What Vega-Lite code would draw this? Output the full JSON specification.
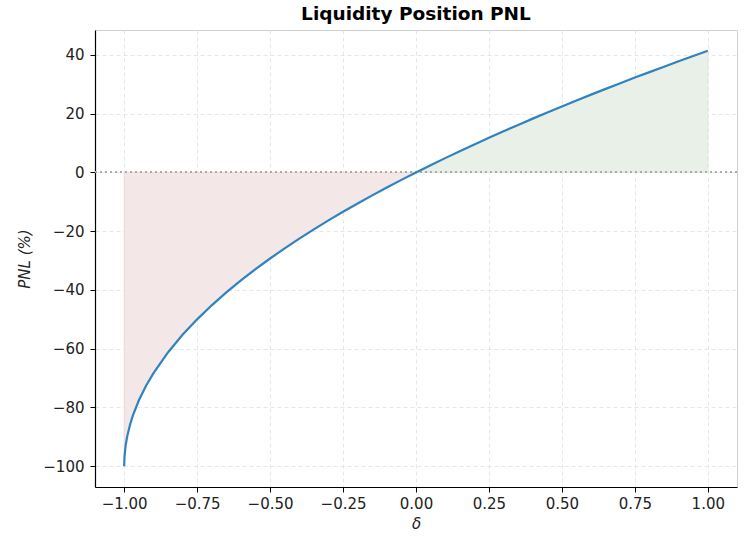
{
  "$schema": "https://vega.github.io/schema/vega-lite/v6.json",
  "autosize": {"type": "none"},
  "width": 642,
  "height": 457,
  "padding": {"left": 95, "top": 30, "right": 14, "bottom": 52},
  "background": "white",
  "config": {
    "view": {"stroke": "#d0d0d0", "strokeWidth": 1},
    "font": "DejaVu Sans",
    "axis": {
      "labelFont": "DejaVu Sans", "labelFontSize": 15, "labelColor": "#222",
      "titleFont": "DejaVu Sans", "titleFontSize": 15, "titleFontWeight": "normal", "titleFontStyle": "italic", "titleColor": "#222",
      "domainColor": "#000", "domainWidth": 1.2, "tickColor": "#000", "tickSize": 5,
      "gridColor": "#e3e3e3", "gridDash": [4, 3], "gridWidth": 0.9
    }
  },
  "title": {"text": "Liquidity Position PNL", "font": "DejaVu Sans", "fontSize": 18.5, "fontWeight": "bold", "color": "#000", "offset": 7},
  "data": {"values": [
    {"d": -1.0, "pnl": -100.0},
    {"d": -0.999, "pnl": -96.84},
    {"d": -0.995, "pnl": -92.93},
    {"d": -0.99, "pnl": -90.0},
    {"d": -0.98, "pnl": -85.86},
    {"d": -0.97, "pnl": -82.68},
    {"d": -0.95, "pnl": -77.64},
    {"d": -0.925, "pnl": -72.61},
    {"d": -0.9, "pnl": -68.38},
    {"d": -0.85, "pnl": -61.27},
    {"d": -0.8, "pnl": -55.28},
    {"d": -0.75, "pnl": -50.0},
    {"d": -0.7, "pnl": -45.23},
    {"d": -0.65, "pnl": -40.84},
    {"d": -0.6, "pnl": -36.75},
    {"d": -0.55, "pnl": -32.92},
    {"d": -0.5, "pnl": -29.29},
    {"d": -0.45, "pnl": -25.84},
    {"d": -0.4, "pnl": -22.54},
    {"d": -0.35, "pnl": -19.38},
    {"d": -0.3, "pnl": -16.33},
    {"d": -0.25, "pnl": -13.4},
    {"d": -0.2, "pnl": -10.56},
    {"d": -0.15, "pnl": -7.8},
    {"d": -0.1, "pnl": -5.13},
    {"d": -0.05, "pnl": -2.53},
    {"d": 0.0, "pnl": 0.0},
    {"d": 0.05, "pnl": 2.47},
    {"d": 0.1, "pnl": 4.88},
    {"d": 0.15, "pnl": 7.24},
    {"d": 0.2, "pnl": 9.54},
    {"d": 0.25, "pnl": 11.8},
    {"d": 0.3, "pnl": 14.02},
    {"d": 0.35, "pnl": 16.19},
    {"d": 0.4, "pnl": 18.32},
    {"d": 0.45, "pnl": 20.42},
    {"d": 0.5, "pnl": 22.47},
    {"d": 0.55, "pnl": 24.5},
    {"d": 0.6, "pnl": 26.49},
    {"d": 0.65, "pnl": 28.45},
    {"d": 0.7, "pnl": 30.38},
    {"d": 0.75, "pnl": 32.29},
    {"d": 0.8, "pnl": 34.16},
    {"d": 0.85, "pnl": 36.01},
    {"d": 0.9, "pnl": 37.84},
    {"d": 0.95, "pnl": 39.64},
    {"d": 1.0, "pnl": 41.42}
  ]},
  "encoding": {
    "x": {"field": "d", "type": "quantitative", "scale": {"domain": [-1.1, 1.1], "nice": false, "zero": false},
      "axis": {"title": "δ", "format": ".2f", "values": [-1, -0.75, -0.5, -0.25, 0, 0.25, 0.5, 0.75, 1], "labelPadding": 4, "titlePadding": 5}},
    "y": {"field": "pnl", "type": "quantitative", "scale": {"domain": [-107.07, 48.49], "nice": false, "zero": false},
      "axis": {"title": "PNL (%)", "format": "d", "values": [-100, -80, -60, -40, -20, 0, 20, 40], "labelPadding": 6, "titlePadding": 10}}
  },
  "layer": [
    {"transform": [{"filter": "datum.d <= 0"}], "mark": {"type": "area", "color": "#f3e7e7", "stroke": "#ead6d6", "strokeWidth": 0.8}, "encoding": {"y2": {"datum": 0}}},
    {"transform": [{"filter": "datum.d >= 0"}], "mark": {"type": "area", "color": "#e8f0e7", "stroke": "#dde8dc", "strokeWidth": 0.8}, "encoding": {"y2": {"datum": 0}}},
    {"mark": {"type": "rule", "color": "#aaaaaa", "strokeDash": [2, 3], "strokeWidth": 1.3}, "encoding": {"y": {"datum": 0}, "x": {"value": 0}, "x2": {"value": 642}}},
    {"mark": {"type": "line", "color": "#3182bd", "strokeWidth": 2.2}, "encoding": {}}
  ]
}
